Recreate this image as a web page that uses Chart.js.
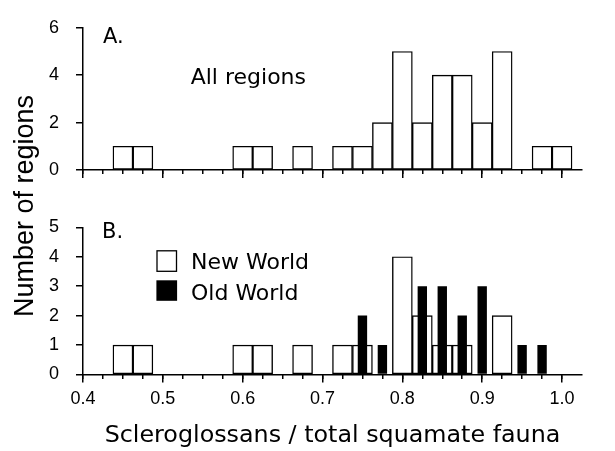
<!DOCTYPE html>
<html><head><meta charset="utf-8">
<script src="https://cdn.jsdelivr.net/npm/chart.js@4.4.1/dist/chart.umd.min.js"></script>
<style>
html,body{margin:0;padding:0;background:#fff;}
#wrap{position:relative;width:615px;height:451px;background:#fff;}
canvas{position:absolute;left:0;top:0;}
</style></head><body>
<div id="wrap"><canvas id="cA" width="615" height="451"></canvas><canvas id="cB" width="615" height="451"></canvas></div>
<script>
// ---- data (bin centres = scleroglossan proportion) ----
const binsAll   = [0.45, 0.475, 0.6, 0.625, 0.675, 0.725, 0.75, 0.775, 0.8, 0.825, 0.85, 0.875, 0.9, 0.925, 0.975, 1.0];
const countsAll = [1, 1, 1, 1, 1, 1, 1, 2, 5, 2, 4, 4, 2, 5, 1, 1];
const binsNew   = [0.45, 0.475, 0.6, 0.625, 0.675, 0.725, 0.75, 0.8, 0.825, 0.85, 0.875, 0.925];
const countsNew = [1, 1, 1, 1, 1, 1, 1, 4, 2, 1, 1, 2];
const binsOld   = [0.75, 0.775, 0.825, 0.85, 0.875, 0.9, 0.95, 0.975];
const countsOld = [2, 1, 3, 3, 2, 3, 1, 1];
const seriesNames = ['New World', 'Old World'];
const panelLabels = ['A.', 'B.'];
const noteA = 'All regions';
const xTitle = 'Scleroglossans / total squamate fauna';
const yTitle = 'Number of regions';
const xMin = 0.4, xMax = 1.025, xMajorStep = 0.1, xMinorStep = 0.025;
const yMaxA = 6, yMaxB = 5;

Chart.defaults.font.family = 'Liberation Sans';
Chart.defaults.font.size = 18;
Chart.defaults.color = '#000';

const pts = (xs, ys) => xs.map((x, i) => ({x: x, y: ys[i]}));
const BLACK = '#000';
const tickFont = {family: 'Liberation Sans', size: 18};

function xAxes(showLabels, height) {
  return {
    x: {
      type: 'linear', position: 'bottom', min: xMin, max: xMax, offset: false,
      ticks: {display: showLabels, stepSize: xMajorStep, includeBounds: false, color: BLACK, font: tickFont, padding: 6,
              maxRotation: 0, autoSkip: false, callback: v => Number(v).toFixed(1)},
      grid: {drawOnChartArea: false, offset: false, tickLength: 8, color: BLACK, lineWidth: 1.5},
      border: {display: true, color: BLACK, width: 1.5},
      title: showLabels ? {display: true, text: xTitle, color: BLACK, font: {family: 'DejaVu Sans', size: 23.8}, padding: {top: 0, bottom: 1}} : {display: false},
      afterFit: s => { s.height = height; }
    },
    x2: {
      type: 'linear', position: {y: 0}, min: xMin, max: xMax, offset: false,
      ticks: {display: false, stepSize: xMinorStep, includeBounds: false},
      grid: {drawOnChartArea: false, offset: false, tickLength: 4, lineWidth: 1.5,
             tickColor: c => (c.tick && c.tick.value > 1.01) ? 'rgba(0,0,0,0)' : BLACK},
      border: {display: false}
    }
  };
}
function yAxis(max, everyOther) {
  return {
    min: 0, max: max,
    ticks: {stepSize: 1, color: BLACK, font: tickFont, padding: 17,
            callback: v => (everyOther && v % 2 !== 0) ? '' : String(v)},
    grid: {drawOnChartArea: false, tickLength: 7, color: BLACK, lineWidth: 1.5},
    border: {display: true, color: BLACK, width: 1.5},
    afterFit: s => { s.width = 83; }
  };
}
const commonPlugins = {legend: {display: false}, tooltip: {enabled: false}};

const textA = {
  id: 'textA',
  afterDraw(chart) {
    const ctx = chart.ctx, a = chart.chartArea;
    ctx.save();
    ctx.fillStyle = BLACK; ctx.textAlign = 'left'; ctx.textBaseline = 'alphabetic';
    ctx.font = '21px "DejaVu Sans"';
    ctx.fillText(panelLabels[0], a.left + 20, a.top + 15.6);
    ctx.font = '22px "DejaVu Sans"';
    ctx.fillText(noteA, a.left + 107.7, a.top + 56.6);
    ctx.restore();
  }
};
const textB = {
  id: 'textB',
  afterDraw(chart) {
    const ctx = chart.ctx, a = chart.chartArea;
    ctx.save();
    ctx.fillStyle = BLACK; ctx.strokeStyle = BLACK; ctx.textAlign = 'left'; ctx.textBaseline = 'alphabetic';
    ctx.font = '21px "DejaVu Sans"';
    ctx.fillText(panelLabels[1], a.left + 19, a.top + 11);
    // legend
    ctx.lineWidth = 1.3;
    ctx.fillStyle = '#fff';
    ctx.fillRect(a.left + 74, a.top + 23.5, 19.5, 20.5);
    ctx.strokeRect(a.left + 74, a.top + 23.5, 19.5, 20.5);
    ctx.fillStyle = BLACK;
    ctx.fillRect(a.left + 73.4, a.top + 53, 20.7, 20.5);
    ctx.font = '22px "DejaVu Sans"';
    ctx.fillText(seriesNames[0], a.left + 108, a.top + 41.5);
    ctx.fillText(seriesNames[1], a.left + 108, a.top + 72.5);
    // shared y title
    ctx.font = '27px "Liberation Sans"';
    ctx.textAlign = 'center';
    ctx.translate(33.3, 206);
    ctx.rotate(-Math.PI / 2);
    ctx.fillText(yTitle, 0, 0);
    ctx.restore();
  }
};

new Chart(document.getElementById('cA'), {
  type: 'bar',
  data: {datasets: [{
    label: noteA, data: pts(binsAll, countsAll), xAxisID: 'x', yAxisID: 'y',
    backgroundColor: '#fff', borderColor: BLACK, borderWidth: 1.4, borderSkipped: false,
    grouped: false, barPercentage: 1.0, categoryPercentage: 1.0
  }]},
  options: {
    responsive: false, animation: false, events: [],
    layout: {padding: {left: 0, top: 22.7, right: 33, bottom: 273}},
    scales: Object.assign(xAxes(false, 8), {y: yAxis(yMaxA, true)}),
    plugins: commonPlugins
  },
  plugins: [textA]
});

new Chart(document.getElementById('cB'), {
  type: 'bar',
  data: {datasets: [
    {label: seriesNames[0], data: pts(binsNew, countsNew), xAxisID: 'x', yAxisID: 'y', order: 1,
     backgroundColor: '#fff', borderColor: BLACK, borderWidth: 1.4, borderSkipped: false,
     grouped: false, barPercentage: 1.0, categoryPercentage: 1.0},
    {label: seriesNames[1], data: pts(binsOld, countsOld), xAxisID: 'x', yAxisID: 'y', order: 0,
     backgroundColor: BLACK, borderColor: BLACK, borderWidth: 0,
     grouped: false, barPercentage: 0.47, categoryPercentage: 1.0}
  ]},
  options: {
    responsive: false, animation: false, events: [],
    layout: {padding: {left: 0, top: 227.3, right: 33, bottom: 0}},
    scales: Object.assign(xAxes(true, 76.5), {y: yAxis(yMaxB, false)}),
    plugins: commonPlugins
  },
  plugins: [textB]
});
</script>
</body></html>
